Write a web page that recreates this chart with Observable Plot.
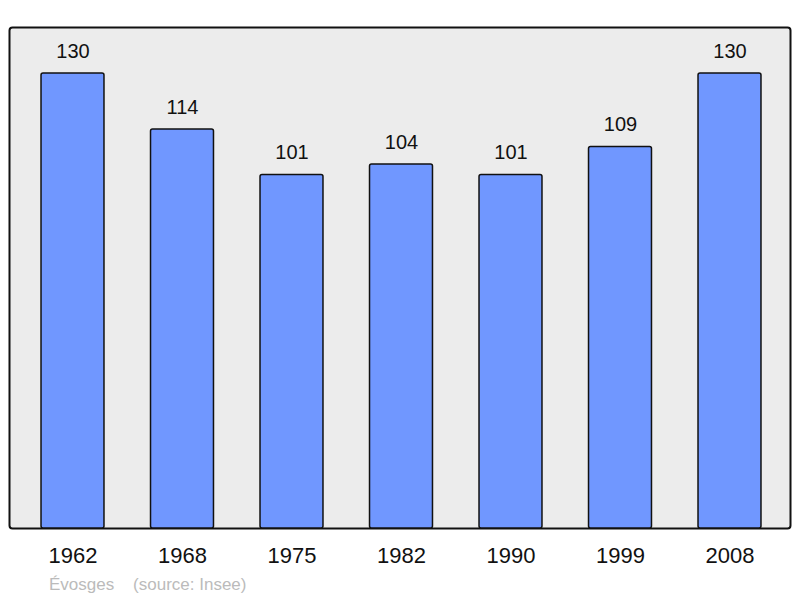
<!DOCTYPE html>
<html>
<head>
<meta charset="utf-8">
<script src="https://cdn.jsdelivr.net/npm/d3@7"></script>
<script src="https://cdn.jsdelivr.net/npm/@observablehq/plot@0.6"></script>
<style>
  html, body { margin: 0; padding: 0; background: #fff; }
  #chart svg { display: block; }
  #caption { font-family: "Liberation Sans", Arial, sans-serif; font-size: 17px; color: #bbbbbb; line-height: 20px; height: 26px; white-space: pre; padding-left: 49px; padding-top: 3px; }
</style>
</head>
<body>
<div id="chart"></div>
<div id="caption">Évosges    (source: Insee)</div>
<script>
const years = ["1962", "1968", "1975", "1982", "1990", "1999", "2008"];
const population = [130, 114, 101, 104, 101, 109, 130];

const data = years.map((year, i) => ({year, value: population[i]}));

const chart = Plot.plot({
  width: 800,
  height: 572,
  marginLeft: 9,
  marginRight: 10,
  marginTop: 27,
  marginBottom: 44,
  style: {fontFamily: "'Liberation Sans', Arial, sans-serif", background: "#fff"},
  x: {domain: years, range: [17.75, 784.25], paddingInner: 0.425, paddingOuter: 0.2125, round: false, label: null},
  y: {domain: [0, 143.14], axis: null},
  marks: [
    Plot.frame({fill: "#ececec", stroke: "#111", strokeWidth: 2, rx: 3}),
    Plot.barY(data, {x: "year", y: "value", fill: "#7097ff", stroke: "#111", strokeWidth: 1.5, rx: 2}),
    Plot.text(data, {x: "year", y: "value", text: d => String(d.value), dy: -22, fontSize: 20, fill: "#111"}),
    Plot.axisX({tickSize: 0, tickPadding: 19, fontSize: 22, color: "#111", label: null})
  ]
});
document.getElementById("chart").appendChild(chart);
</script>
</body>
</html>
